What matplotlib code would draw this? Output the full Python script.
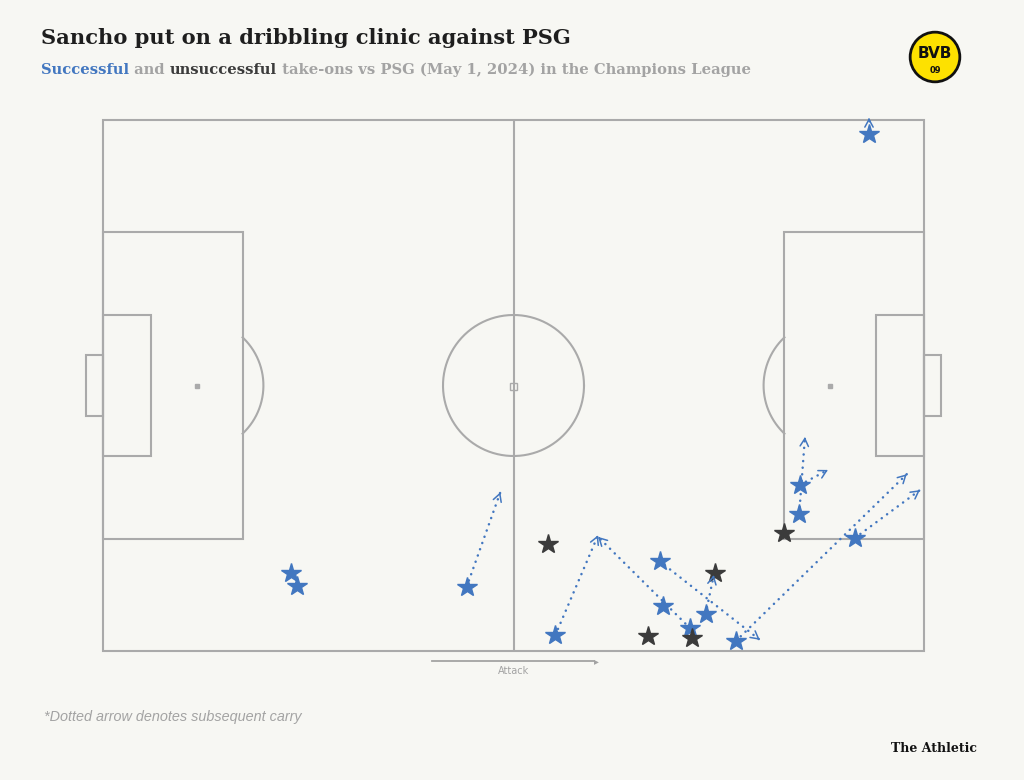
import numpy as np
import matplotlib.pyplot as plt
from matplotlib.patches import Rectangle, Circle

# take-on positions in Opta pitch coords (0-100 both ways, attacking left to right)
succ_x = [22.9, 23.6, 44.3, 55.1, 67.8, 68.2, 71.5, 73.4, 77.1, 84.8, 84.9, 91.6, 93.3]
succ_y = [14.7, 12.2, 12.1, 3.0, 16.9, 8.5, 4.3, 7.0, 1.9, 25.8, 31.3, 21.3, 97.4]
# carry end points after the take-on (None = no carry)
carry_x = [None, None, 48.4, 60.3, 80.0, None, 60.3, 74.4, 97.9, 85.5, 88.3, 99.5, 93.3]
carry_y = [None, None, 29.9, 21.8, 2.1, None, 21.5, 14.3, 33.3, 40.3, 34.1, 30.3, 100.4]

fail_x = [54.2, 66.4, 71.7, 74.5, 82.9]
fail_y = [20.2, 2.8, 2.4, 14.7, 22.2]

BG = '#f7f7f3'
LINE = '#aaaaaa'
BLUE = '#4277c0'
DARK = '#3b3b3b'
GREY = '#a3a3a3'

W, H = 1024, 780
fig = plt.figure(figsize=(W / 100, H / 100), dpi=100, facecolor=BG)

# pitch axes placed in pixel terms
ax = fig.add_axes([103 / W, (H - 651) / H, 821 / W, 531 / H])
ax.set_xlim(0, 100)
ax.set_ylim(0, 100)
ax.axis('off')
ax.set_facecolor(BG)

lw = 1.5
kw = dict(fill=False, ec=LINE, lw=lw, clip_on=False)
ax.add_patch(Rectangle((0, 0), 100, 100, **kw))
ax.plot([50, 50], [0, 100], color=LINE, lw=lw)

# x/y units per pixel differ, so circles are drawn as ellipses in data coords
sx, sy = 100 / 821, 100 / 531


def circ(cx, cy, r_px, t0=0, t1=360):
    t = np.radians(np.linspace(t0, t1, 200))
    ax.plot(cx + r_px * sx * np.cos(t), cy + r_px * sy * np.sin(t),
            color=LINE, lw=lw, clip_on=False)


for side in (0, 1):
    x0 = 0 if side == 0 else 83
    ax.add_patch(Rectangle((x0, 21.1), 17, 57.8, **kw))
    x6 = 0 if side == 0 else 94.2
    ax.add_patch(Rectangle((x6, 36.8), 5.8, 26.4, **kw))
    xg = -2.1 if side == 0 else 100
    ax.add_patch(Rectangle((xg, 44.2), 2.1, 11.6, **kw))
    spot = 11.5 if side == 0 else 88.5
    ax.plot(spot, 50, 's', color=LINE, ms=2.2)
    ang = np.degrees(np.arccos(5.5 / (66 * sx)))
    if side == 0:
        circ(spot, 50, 66, -ang, ang)
    else:
        circ(spot, 50, 66, 180 - ang, 180 + ang)
circ(50, 50, 70.5)
ax.add_patch(Rectangle((49.6, 49.2), 0.8, 1.2, fill=False, ec=LINE, lw=1))

# carries: dotted shaft + open chevron head
for x0, y0, x1, y1 in zip(succ_x, succ_y, carry_x, carry_y):
    if x1 is None:
        continue
    ax.plot([x0, x1], [y0, y1], color=BLUE, lw=1.8, ls=(0, (0.05, 2.6)),
            dash_capstyle='round', zorder=2, clip_on=False)
    dx, dy = (x1 - x0) / sx, (y1 - y0) / sy
    n = np.hypot(dx, dy)
    bx, by = x1 - 2 * dx / n * sx, y1 - 2 * dy / n * sy
    ax.annotate('', xy=(x1, y1), xytext=(bx, by), annotation_clip=False,
                arrowprops=dict(arrowstyle='->,head_length=0.55,head_width=0.3',
                                color=BLUE, lw=1.1, shrinkA=0, shrinkB=0), zorder=5)

ax.plot(succ_x, succ_y, '*', color=BLUE, ms=15, mec=BLUE, ls='none', zorder=4, clip_on=False)
ax.plot(fail_x, fail_y, '*', color=DARK, ms=15, mec=DARK, ls='none', zorder=4)

# attack arrow
fig.add_artist(plt.Line2D([432 / W, 594 / W], [(H - 661) / H] * 2, color=GREY, lw=1.3))
fig.text(599 / W, (H - 661) / H, '\u25B8', color=GREY, fontsize=7, ha='right', va='center')
fig.text(514 / W, (H - 671) / H, 'Attack', color=GREY, fontsize=7, ha='center', va='center')

# titles
serif = 'DejaVu Serif'
fig.text(41 / W, (H - 38) / H, 'Sancho put on a dribbling clinic against PSG',
         fontsize=15.1, fontweight='bold', family=serif, color='#1e1e1e', va='center')

parts = [('Successful', BLUE), (' and ', GREY), ('unsuccessful', DARK),
         (' take-ons vs PSG (May 1, 2024) in the Champions League', GREY)]
fig.canvas.draw()
r = fig.canvas.get_renderer()
x = 41 / W
for txt, c in parts:
    t = fig.text(x, (H - 70) / H, txt, fontsize=10.6, fontweight='bold', family=serif,
                 color=c, va='center')
    bb = t.get_window_extent(renderer=r)
    x += bb.width / W

fig.text(44 / W, (H - 717) / H, '*Dotted arrow denotes subsequent carry', fontsize=10.4,
         style='italic', color=GREY, family='Liberation Sans', va='center')
fig.text(977 / W, (H - 748) / H, 'The Athletic', fontsize=9, fontweight='bold',
         family=serif, color='#111111', ha='right', va='center')

# BVB badge
lax = fig.add_axes([908 / W, (H - 84) / H, 54 / W, 54 / H])
lax.set_xlim(-1, 1)
lax.set_ylim(-1, 1)
lax.set_aspect('equal')
lax.axis('off')
lax.add_patch(Circle((0, 0), 0.92, fc='#fde100', ec='#111111', lw=2))
lax.text(0, 0.12, 'BVB', ha='center', va='center', fontsize=11, fontweight='bold',
         family='DejaVu Sans', color='#111111')
lax.text(0, -0.5, '09', ha='center', va='center', fontsize=6, fontweight='bold',
         family='DejaVu Sans', color='#111111')

fig.savefig('out.png', dpi=100, facecolor=BG)
